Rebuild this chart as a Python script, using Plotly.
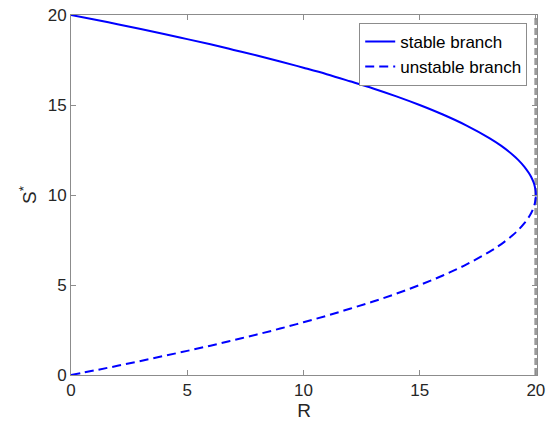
import plotly.graph_objects as go

# Values
R_vals = [0, 1, 2, 3, 4, 5, 6, 7, 8, 9, 10, 11, 12, 13, 14, 15, 16, 17, 18,
          18.5, 19, 19.25, 19.5, 19.7, 19.8, 19.9, 19.95, 19.99, 20]
S_stable = [20.00, 19.75, 19.49, 19.22, 18.94, 18.66, 18.37, 18.06, 17.75,
            17.42, 17.07, 16.71, 16.32, 15.92, 15.48, 15.00, 14.47, 13.87,
            13.16, 12.74, 12.24, 11.94, 11.58, 11.22, 11.00, 10.71, 10.50,
            10.22, 10.00]
S_unstable = [0.00, 0.25, 0.51, 0.78, 1.06, 1.34, 1.63, 1.94, 2.25, 2.58,
              2.93, 3.29, 3.68, 4.08, 4.52, 5.00, 5.53, 6.13, 6.84, 7.26,
              7.76, 8.06, 8.42, 8.78, 9.00, 9.29, 9.50, 9.78, 10.00]
R_limit = [20, 20]
S_limit = [0, 20]

x_ticks = [0, 5, 10, 15, 20]
y_ticks = [0, 5, 10, 15, 20]

fig = go.Figure()
fig.add_trace(go.Scatter(x=R_limit, y=S_limit, mode="lines", showlegend=False,
                         line=dict(color="#9a9a9a", width=3, dash="7px,3px"),
                         hoverinfo="skip"))
fig.add_trace(go.Scatter(x=R_vals, y=S_stable, mode="lines", name="stable branch",
                         line=dict(color="#0000ff", width=2, shape="spline")))
fig.add_trace(go.Scatter(x=R_vals, y=S_unstable, mode="lines", name="unstable branch",
                         line=dict(color="#0000ff", width=2, dash="9px,5px", shape="spline")))

axis_common = dict(showline=True, linecolor="#8c8c8c", linewidth=1, mirror="ticks",
                   ticks="inside", ticklen=5, tickcolor="#8c8c8c", showgrid=False,
                   zeroline=False, automargin=False,
                   tickfont=dict(family="Liberation Sans", size=17, color="#262626"))

fig.update_layout(
    width=547, height=427,
    margin=dict(l=71, r=10, t=15, b=52),
    paper_bgcolor="white", plot_bgcolor="white",
    font=dict(family="Liberation Sans", color="#262626"),
    xaxis=dict(range=[0, 20.05], tickvals=x_ticks,
               title=dict(text="R", font=dict(size=19), standoff=2),
               **axis_common),
    yaxis=dict(range=[0, 20], tickvals=y_ticks,
               title=dict(text="S<sup>*</sup>", font=dict(size=19), standoff=6),
               **axis_common),
    legend=dict(x=0.979, y=0.978, xanchor="right", yanchor="top",
                bgcolor="white", bordercolor="#8c8c8c", borderwidth=1,
                font=dict(family="Liberation Sans", size=17, color="#000000"),
                tracegroupgap=0, itemwidth=30),
    showlegend=True,
)

fig.write_html("out.html",
               config={"displayModeBar": False},
               post_script="document.body.style.margin='0';document.body.style.overflow='hidden';")
